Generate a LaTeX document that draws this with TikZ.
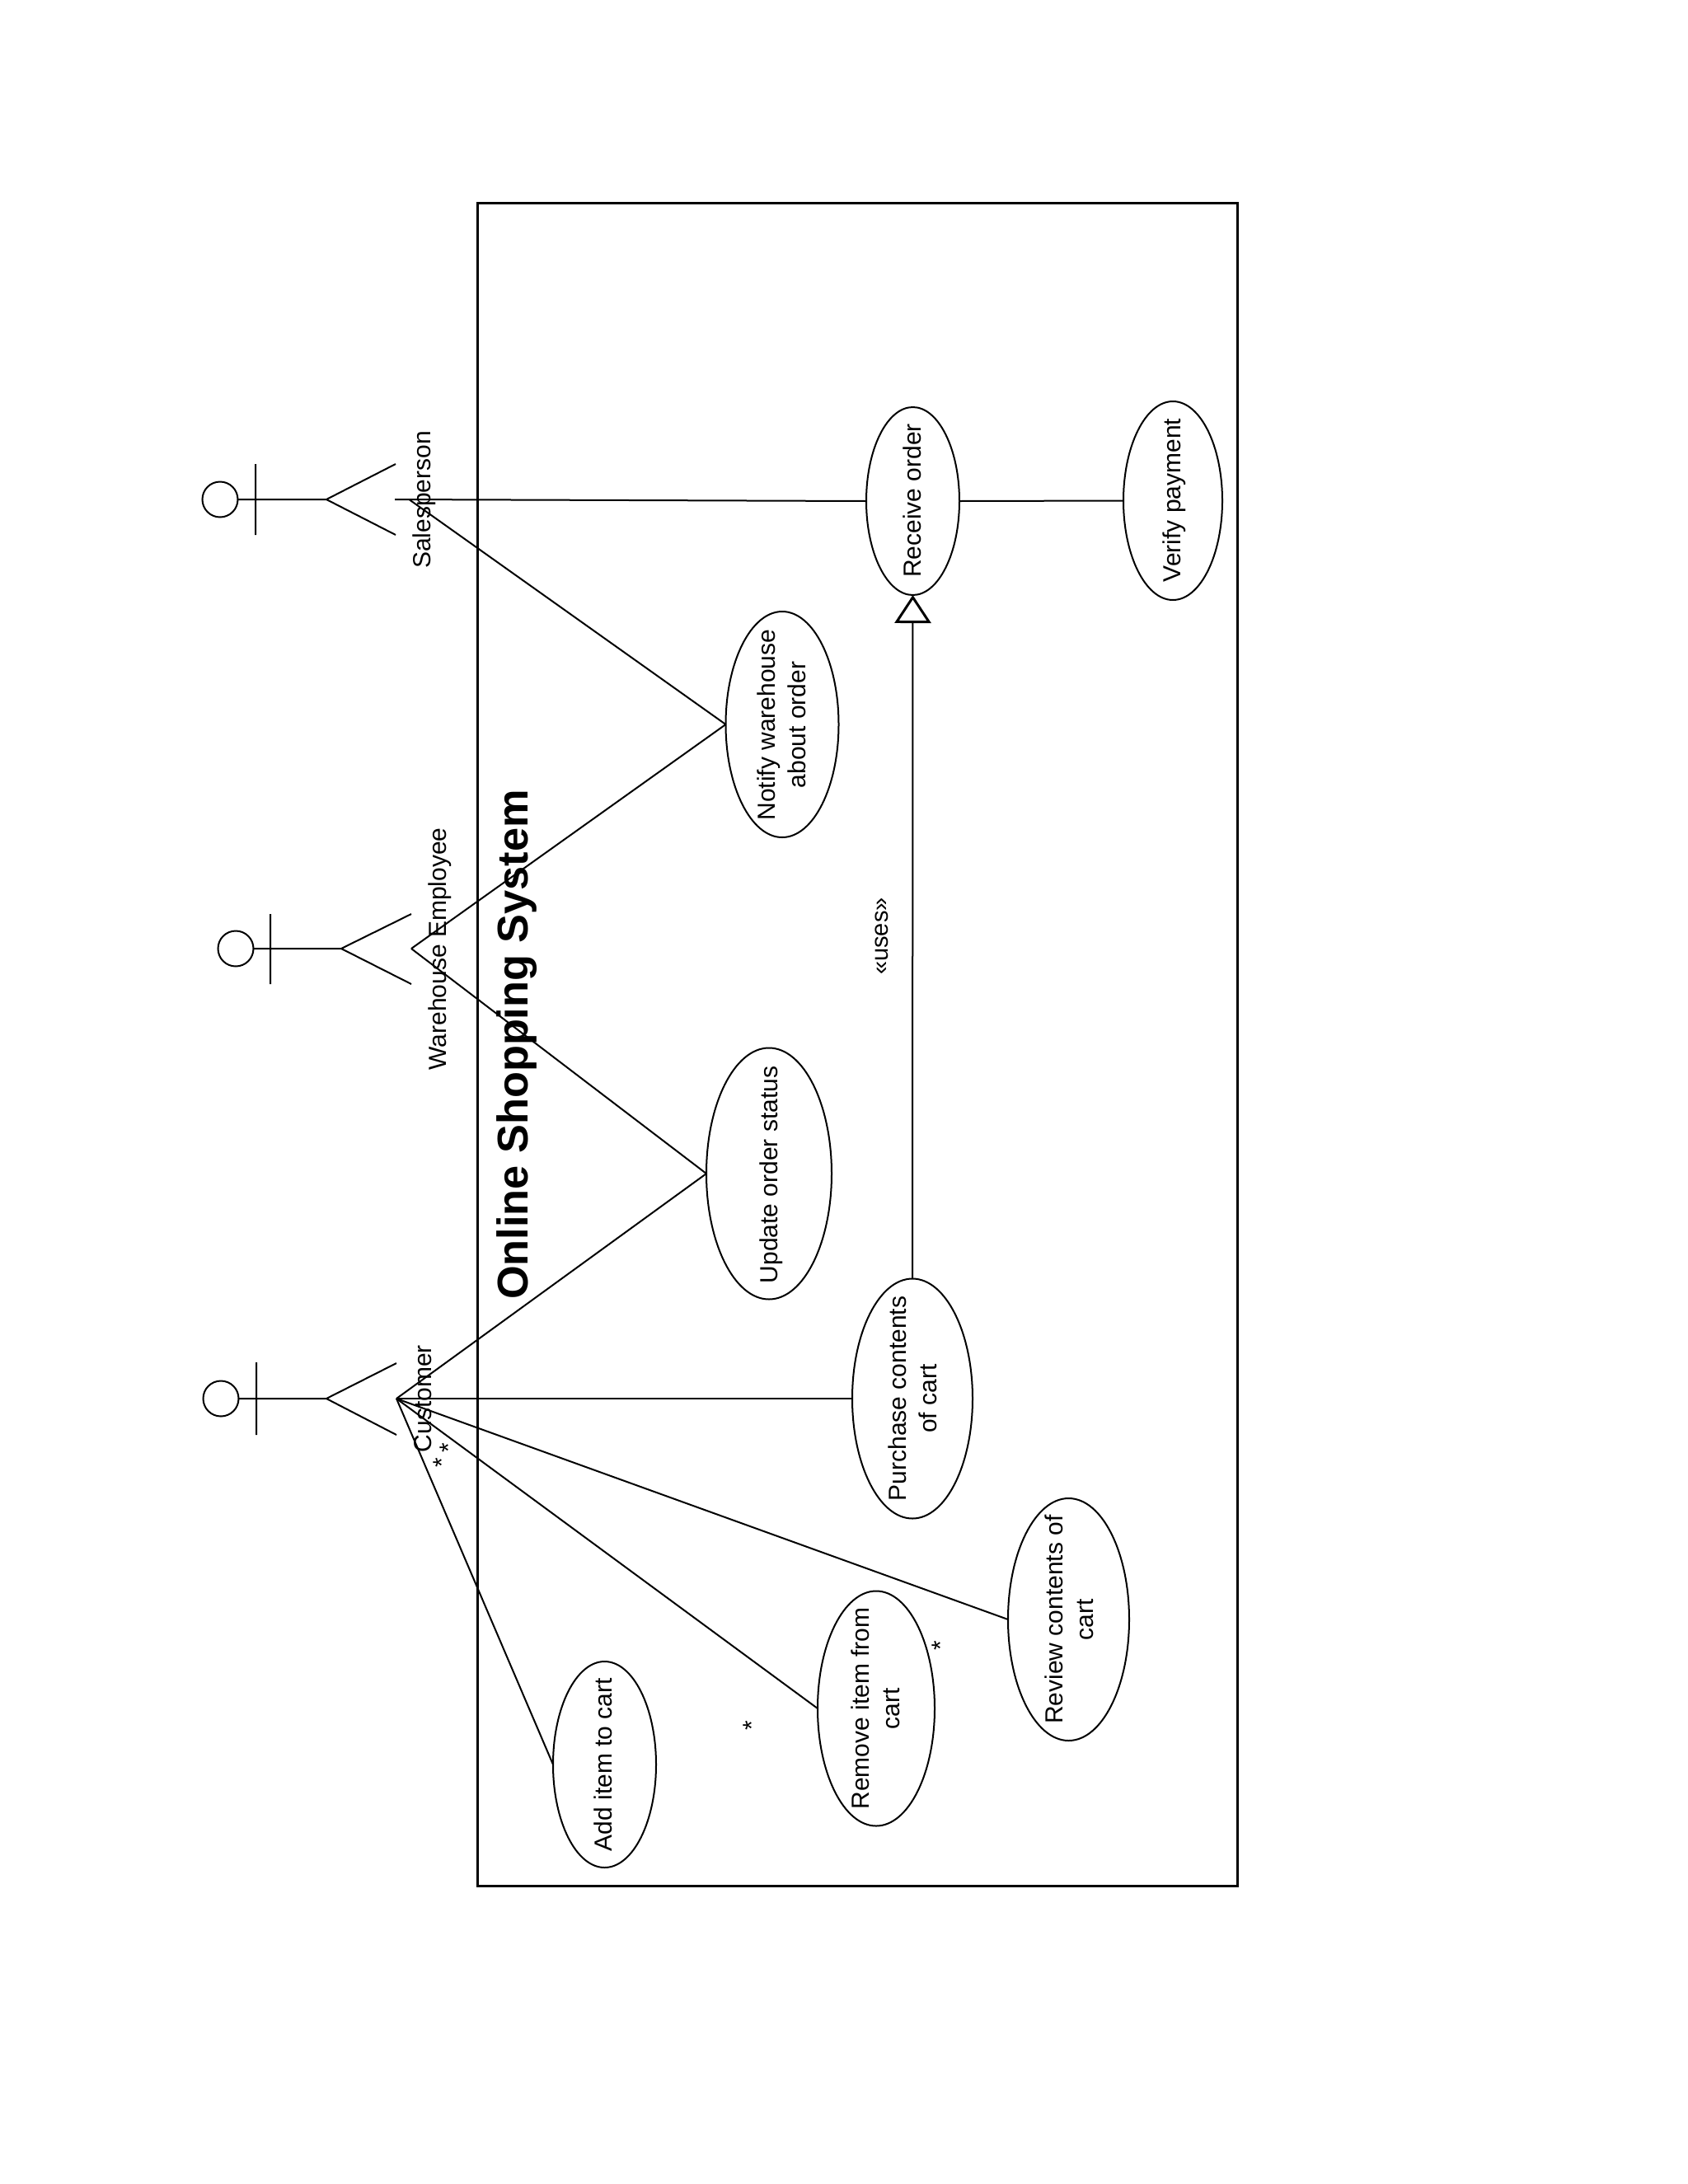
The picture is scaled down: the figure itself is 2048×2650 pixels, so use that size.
\documentclass[tikz,border=0pt]{standalone}
\usepackage{fontspec}
\setmainfont{Liberation Sans}
\usetikzlibrary{shapes.geometric,arrows.meta}
\tikzset{
  x=0.5pt,y=-0.5pt,
  ln/.style={line width=1pt,line join=miter},
  usecase/.style={draw,ellipse,line width=1pt,inner sep=0pt,outer sep=0pt},
  utext/.style={rotate=90,align=center,inner sep=0pt,font=\fontsize{15}{18.6}\selectfont},
  head/.style={draw,circle,line width=1pt,minimum size=21.5pt,inner sep=0pt,outer sep=0pt},
  titletext/.style={rotate=90,inner sep=0pt,font=\fontsize{26.15}{30}\selectfont\bfseries},
  startext/.style={rotate=90,inner sep=0pt,font=\fontsize{15}{18}\selectfont},
  gen/.style={ln,-{Triangle[open,length=17pt,width=22pt,line width=1.5pt]}},
}
\begin{document}
\begin{tikzpicture}
\useasboundingbox (0,0) rectangle (2048,2650);
\fill[white] (0,0) rectangle (2048,2650);
% system boundary
\node[draw,line width=1.5pt,minimum width=461pt,minimum height=1021pt,inner sep=0pt] (sys) at (1040,1267) {};
\node[titletext] (title) at (627,1267.5) {Online Shopping System};

% use cases
\node[usecase,minimum width=56.5pt,minimum height=114pt] (recv) at (1107.5,608) {};
\node[utext] (recvt) at (1107,607.5) {Receive order};
\node[usecase,minimum width=60pt,minimum height=120.5pt] (verify) at (1423,607.5) {};
\node[utext] (verifyt) at (1424.5,607) {Verify payment};
\node[usecase,minimum width=68.5pt,minimum height=137pt] (notify) at (949,879) {};
\node[utext] (notifyt) at (948.5,879.5) {Notify warehouse\\about order};
\node[usecase,minimum width=76pt,minimum height=152.5pt] (update) at (933,1424) {};
\node[utext] (updatet) at (936,1425.5) {Update order status};
\node[usecase,minimum width=73pt,minimum height=145.5pt] (purchase) at (1107,1697) {};
\node[utext] (purchaset) at (1107,1697) {Purchase contents\\of cart};
\node[usecase,minimum width=73.5pt,minimum height=147pt] (review) at (1296.5,1965) {};
\node[utext] (reviewt) at (1297,1965) {Review contents of\\cart};
\node[usecase,minimum width=71pt,minimum height=142.5pt] (remove) at (1063,2073) {};
\node[utext] (removet) at (1062,2073) {Remove item from\\cart};
\node[usecase,minimum width=62.5pt,minimum height=125pt] (add) at (733.5,2141) {};
\node[utext] (addt) at (732,2141) {Add item to cart};

% actor: Salesperson
\node[head] (h1) at (267,606) {};
\coordinate (c1t) at (310,563); \coordinate (c1b) at (310,649);
\coordinate (hip1) at (396,606); \coordinate (l1t) at (480,563); \coordinate (l1b) at (480,649);
\coordinate (f1) at (479,606); \coordinate (f1b) at (497,606.5);
\draw[ln] (h1.east) -- (hip1) (c1t) -- (c1b) (l1t) -- (hip1) -- (l1b);
\node[utext] (sp) at (514.5,606.5) {Salesperson};

% actor: Warehouse Employee
\node[head] (h2) at (286,1151) {};
\coordinate (c2t) at (328,1109); \coordinate (c2b) at (328,1194);
\coordinate (hip2) at (414,1151); \coordinate (l2t) at (499,1109); \coordinate (l2b) at (499,1194);
\coordinate (f2) at (499,1151);
\draw[ln] (h2.east) -- (hip2) (c2t) -- (c2b) (l2t) -- (hip2) -- (l2b);
\node[utext] (we) at (534,1151.5) {Warehouse Employee};

% actor: Customer
\node[head] (h3) at (268,1697) {};
\coordinate (c3t) at (311,1653); \coordinate (c3b) at (311,1741);
\coordinate (hip3) at (396,1697); \coordinate (l3t) at (481,1654); \coordinate (l3b) at (481,1741);
\coordinate (f3) at (481,1697);
\draw[ln] (h3.east) -- (hip3) (c3t) -- (c3b) (l3t) -- (hip3) -- (l3b);
\node[utext] (cu) at (513,1697) {Customer};

% associations
\draw[ln] (f1) -- (recv.west);
\draw[ln] (f1b) -- (notify.west);
\draw[ln] (recv.east) -- (verify.west);
\draw[ln] (f2) -- (notify.west);
\draw[ln] (f2) -- (update.west);
\draw[ln] (f3) -- (update.west);
\draw[ln] (f3) -- (purchase.west);
\draw[ln] (f3) -- (review.west);
\draw[ln] (f3) -- (remove.west);
\draw[ln] (f3) -- (add.west);
\draw[gen] (purchase.north) -- (recv.south);

% labels
\node[utext,font=\fontsize{14.5}{18}\selectfont] (uses) at (1070,1136) {«uses»};
\node[startext] (s1) at (544,1757) {*};
\node[startext] (s2) at (536,1775) {*};
\node[startext] (s3) at (912,2094) {*};
\node[startext] (s4) at (1141,1997) {*};
\end{tikzpicture}
\end{document}
